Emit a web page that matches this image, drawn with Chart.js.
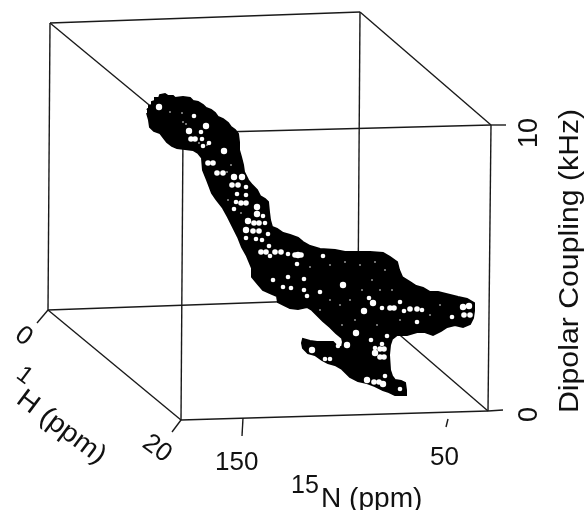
<!DOCTYPE html>
<html><head><meta charset="utf-8">
<style>html,body{margin:0;padding:0;background:#fff}canvas{display:block}</style>
<script src="https://cdn.jsdelivr.net/npm/chart.js@4/dist/chart.umd.js"></script>
</head><body><canvas id="c" width="584" height="510"></canvas>
<script>
// Projected box edges: [x0,y0,x1,y1]
const boxEdges = [
 [50,23,360,12],[50,23,183,133],[360,12,491,125],[183,133,491,125],
 [50,23,48,310],[360,12,358,299],[183,133,181,420],[491,125,488,411],
 [48,310,358,299],[358,299,488,411],[48,310,181,420],[181,420,488,411]
];
const tickMarks = [
 [48,310,37,323],[181,420,172,432],[243,418,242,436],[448,419,446,427],
 [491,125,506,125],[488,411,503,410]
];
// Silhouette of the correlation spectrum
const blobOutline = [
 [147,110],[149,108],[149,106],[152,105],[152,102],[155,101],[155,98],[159,98],[160,95],[165,94],
 [168,96],[173,96],[175,98],[183,97],[190,98],[193,101],[198,102],[203,105],[206,108],[211,110],
 [215,113],[218,117],[223,119],[228,123],[231,127],[235,130],[238,134],[239,142],[239,150],[241,157],
 [243,165],[244,172],[248,180],[252,185],[257,190],[260,196],[265,199],[268,202],[269,212],[270,220],
 [272,227],[277,229],[283,233],[290,235],[298,238],[303,242],[310,246],[320,249],[335,250],[345,252],
 [357,252],[370,252],[383,253],[390,257],[397,262],[399,270],[402,277],[410,282],[416,286],[423,288],
 [430,292],[438,292],[450,295],[458,297],[467,299],[474,303],[474,311],[473,318],[470,324],[463,327],
 [455,325],[447,327],[441,331],[433,335],[425,332],[417,332],[407,335],[397,335],[392,339],[390,345],
 [389,355],[390,370],[392,376],[395,380],[401,381],[405,383],[406,390],[406,395],[400,395],[395,395],
 [389,392],[383,390],[375,386],[367,383],[358,381],[350,377],[342,369],[335,365],[328,363],[322,360],
 [315,355],[308,353],[303,348],[302,343],[303,339],[310,341],[317,342],[325,342],[333,342],[338,347],
 [342,347],[343,342],[342,338],[336,333],[330,327],[323,321],[317,315],[312,310],[307,307],[298,309],
 [290,308],[284,305],[278,302],[277,296],[270,293],[263,290],[258,284],[252,277],[252,268],[247,256],
 [242,247],[238,237],[233,227],[228,217],[223,208],[216,199],[212,193],[207,180],[203,170],[202,158],
 [198,153],[193,150],[185,149],[177,148],[172,146],[167,142],[163,137],[160,133],[154,131],[150,127],
 [149,120],[147,113]
];
const largeHoles = [
 [159,107],[189,131],[206,126],[224,151],[234,177],[242,177],[257,207],[257,214],[248,221],[246,230],
 [298,255],[343,285],[356,333],[347,345],[375,353],[312,350],[367,380],[383,384],[469,306],[463,307],
 [373,303],[364,311]
];
const wideHoles = [
 [191,139],[195,139],[208,163],[213,163],[217,173],[223,173],[232,185],[238,185],[241,203],[246,203],
 [254,223],[259,223],[253,231],[259,231],[261,252],[266,252],[275,252],[281,252],[295,255],[301,255],
 [390,308],[394,308],[410,309],[417,309],[380,349],[384,349],[380,357],[384,357],[374,382],[379,382],
 [464,315],[470,315]
];
const smallHoles = [
 [194,116],[201,132],[202,139],[209,143],[203,146],[246,187],[237,194],[246,195],[236,202],[234,209],
 [263,216],[265,223],[268,234],[246,238],[256,239],[262,240],[269,246],[288,254],[270,256],[297,264],
 [273,280],[288,277],[304,279],[283,287],[291,288],[304,290],[307,296],[323,256],[320,292],[369,298],
 [382,308],[400,302],[404,311],[422,310],[417,322],[452,317],[371,340],[387,336],[325,359],[330,359],
 [385,376],[400,389],[338,346],[375,348],[382,344]
];
const specks = [
 [170,112],[182,113],[186,124],[183,122],[199,143],[207,145],[231,165],[227,172],[228,200],[241,213],
 [310,267],[330,265],[345,262],[360,265],[375,262],[385,270],[372,280],[380,290],[362,290],[392,290],
 [320,310],[340,305],[355,320],[342,325],[400,320],[430,315],[440,305],[330,300],[350,300],[377,325]
];
const depthTicks = ["0","20"];
const nitrogenTicks = ["150","50"];
const couplingTicks = ["0","10"];
const depthTitle = ["1","H (ppm)"];
const nitrogenTitle = ["15","N (ppm)"];
const couplingTitle = "Dipolar Coupling (kHz)";

const pts = a => a.map(p => ({x:p[0],y:p[1]}));
const seg = e => [{x:e[0],y:e[1]},{x:e[2],y:e[3]}];
const lineDs = e => ({data:seg(e),showLine:true,borderColor:'#1a1a1a',borderWidth:1.4,pointRadius:0,order:5});
const holeDs = (a,r) => ({data:pts(a),showLine:false,pointRadius:r,pointBorderWidth:0,
  pointBackgroundColor:'#fff',pointBorderColor:'#fff',order:1});

const FONT = '"Liberation Sans", Arial, sans-serif';
function label(ctx,x,y,angle,text,size,hs=1){
  ctx.save();ctx.translate(x,y);ctx.rotate(angle*Math.PI/180);ctx.scale(hs,1);
  ctx.fillStyle='#111';ctx.textBaseline='alphabetic';ctx.textAlign='left';
  ctx.font=size+'px '+FONT;ctx.fillText(text,0,0);
  ctx.restore();
}
const textPlugin = {id:'labels',afterDraw(ch){
  const c=ch.ctx,X=v=>ch.scales.x.getPixelForValue(v),Y=v=>ch.scales.y.getPixelForValue(v);
  label(c,X(215),Y(470),0,nitrogenTicks[0],26);
  label(c,X(430),Y(465),0,nitrogenTicks[1],26);
  label(c,X(291),Y(493),0,nitrogenTitle[0],25);
  label(c,X(321),Y(507),0,nitrogenTitle[1],27,1.04);
  label(c,X(537),Y(422),-90,couplingTicks[0],27);
  label(c,X(537),Y(148),-90,couplingTicks[1],27);
  label(c,X(578),Y(413),-90,couplingTitle,27,1.12);
  label(c,X(13.5),Y(338),36,depthTicks[0],26);
  label(c,X(141),Y(446),36,depthTicks[1],26);
  label(c,X(15),Y(377),37,depthTitle[0],24);
  label(c,X(15),Y(402),37,depthTitle[1],27,1.07);
}};

new Chart(document.getElementById('c'),{
  type:'scatter',
  data:{datasets:[
    ...boxEdges.map(lineDs),
    ...tickMarks.map(lineDs),
    {data:pts(blobOutline),showLine:true,fill:'shape',tension:0,backgroundColor:'#000',
     borderColor:'#000',borderWidth:2,pointRadius:0,order:3},
    holeDs(largeHoles,3.2),
    holeDs(wideHoles,2.8),
    holeDs(smallHoles,2.3),
    holeDs(specks,0.8)
  ]},
  options:{responsive:false,animation:false,
    layout:{padding:0,autoPadding:false},
    plugins:{legend:{display:false},tooltip:{enabled:false},title:{display:false}},
    scales:{
      x:{type:'linear',min:0,max:584,display:false},
      y:{type:'linear',min:0,max:510,reverse:true,display:false}
    }
  },
  plugins:[textPlugin]
});
</script></body></html>
